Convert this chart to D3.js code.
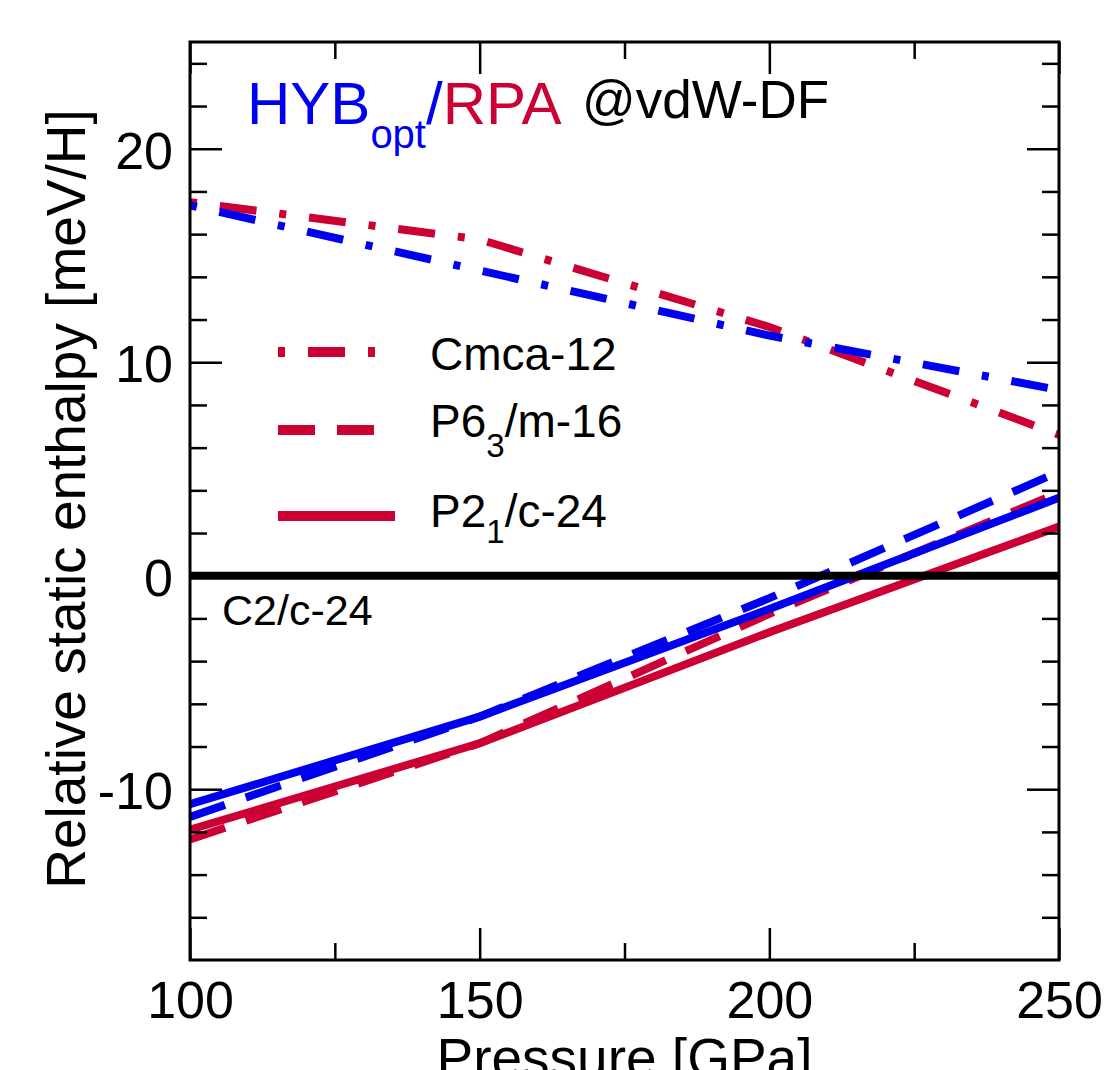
<!DOCTYPE html>
<html>
<head>
<meta charset="utf-8">
<script src="https://cdn.jsdelivr.net/npm/d3@7"></script>
<style>
  body { margin: 0; background: #fff; }
  svg text { font-family: "Liberation Sans", Arial, Helvetica, sans-serif; }
</style>
</head>
<body>
<svg id="chart" width="1115" height="1070"></svg>
<script>
// data (relative static enthalpy, meV/H, vs C2/c-24)
var pressures = [100, 150, 200, 250];
var hybCmca = [17.35, 14.3, 11.25, 8.7];
var rpaCmca = [17.5, 15.75, 11.65, 6.6];
var hybP63m = [-11.3, -6.6, -1.05, 4.87];
var rpaP63m = [-12.35, -7.85, -1.79, 3.9];
var hybP21c = [-10.7, -6.6, -1.56, 3.65];
var rpaP21c = [-11.9, -7.85, -2.65, 2.3];

var xMajor = [100, 150, 200, 250];
var xMinor = [125, 175, 225];
var yMajor = [-10, 0, 10, 20];
var yMinor = [-16, -14, -12, -8, -6, -4, -2, 2, 4, 6, 8, 12, 14, 16, 18, 22, 24];

var legendNames = ["Cmca-12", "P6_3/m-16", "P2_1/c-24"];

var red = "#cc0033", blue = "#0000f0";
var dashDot = "7,23,37,23", dashed = "37,22";

var marginLeft = 190, marginTop = 42, width = 869, height = 918;

var svg = d3.select("#chart");

var x = d3.scaleLinear().domain([100, 250]).range([0, width]);
var y = d3.scaleLinear().domain([-18, 25]).range([height, 0]);

var g = svg.append("g").attr("transform", "translate(" + marginLeft + "," + marginTop + ")");

g.append("clipPath").attr("id", "clip")
  .append("rect").attr("width", width).attr("height", height);

var series = [
  {vals: rpaCmca, color: red, dash: dashDot},
  {vals: rpaP63m, color: red, dash: dashed},
  {vals: rpaP21c, color: red, dash: null},
  {vals: hybCmca, color: blue, dash: dashDot},
  {vals: hybP63m, color: blue, dash: dashed},
  {vals: hybP21c, color: blue, dash: null}
];

var line = d3.line()
  .x(function(d, i) { return x(pressures[i]); })
  .y(function(d) { return y(d); });

g.append("g").attr("clip-path", "url(#clip)")
  .selectAll("path")
  .data(series)
  .enter()
  .append("path")
  .attr("d", function(d) { return line(d.vals); })
  .attr("fill", "none")
  .attr("stroke", function(d) { return d.color; })
  .attr("stroke-width", 8)
  .attr("stroke-dasharray", function(d) { return d.dash; });

// reference structure C2/c-24
g.append("line")
  .attr("x1", 0).attr("x2", width)
  .attr("y1", y(0)).attr("y2", y(0))
  .attr("stroke", "#000").attr("stroke-width", 8);

g.append("text")
  .attr("x", 32).attr("y", y(0) + 49)
  .attr("font-size", 43)
  .text("C2/c-24");

// axes, ticks pointing inward on all four sides
function styleAxis(sel) {
  sel.select(".domain").remove();
  sel.selectAll("line").attr("stroke", "#000").attr("stroke-width", 2.5);
  sel.selectAll("text").attr("font-size", 52).attr("fill", "#000")
    .style("font-family", "'Liberation Sans', Arial, Helvetica, sans-serif");
}

g.append("g").attr("transform", "translate(0," + height + ")")
  .call(d3.axisBottom(x).tickValues(xMajor).tickSize(-32).tickPadding(21).tickFormat(d3.format("d")))
  .call(styleAxis);
g.append("g").attr("transform", "translate(0," + height + ")")
  .call(d3.axisBottom(x).tickValues(xMinor).tickSize(-17).tickFormat(""))
  .call(styleAxis);
g.append("g")
  .call(d3.axisTop(x).tickValues(xMajor).tickSize(-32).tickFormat(""))
  .call(styleAxis);
g.append("g")
  .call(d3.axisTop(x).tickValues(xMinor).tickSize(-17).tickFormat(""))
  .call(styleAxis);

g.append("g")
  .call(d3.axisLeft(y).tickValues(yMajor).tickSize(-32).tickPadding(17).tickFormat(d3.format("d")))
  .call(styleAxis)
  .selectAll("text").attr("dy", "0.38em");
g.append("g")
  .call(d3.axisLeft(y).tickValues(yMinor).tickSize(-17).tickFormat(""))
  .call(styleAxis);
g.append("g").attr("transform", "translate(" + width + ",0)")
  .call(d3.axisRight(y).tickValues(yMajor).tickSize(-32).tickFormat(""))
  .call(styleAxis);
g.append("g").attr("transform", "translate(" + width + ",0)")
  .call(d3.axisRight(y).tickValues(yMinor).tickSize(-17).tickFormat(""))
  .call(styleAxis);

// tick labels use a hyphen-minus like the figure
g.selectAll("text").each(function() {
  var t = d3.select(this);
  t.text(t.text().replace("\u2212", "-"));
});

g.append("rect")
  .attr("width", width).attr("height", height)
  .attr("fill", "none").attr("stroke", "#000").attr("stroke-width", 3);

// axis titles
svg.append("text")
  .attr("transform", "translate(85,499) rotate(-90)")
  .attr("text-anchor", "middle")
  .attr("font-size", 55)
  .text("Relative static enthalpy [meV/H]");

svg.append("text")
  .attr("x", marginLeft + width / 2).attr("y", 1077)
  .attr("text-anchor", "middle")
  .attr("font-size", 55)
  .text("Pressure [GPa]");

// method label
var title = svg.append("text").attr("x", 247).attr("y", 124).attr("font-size", 60);
title.append("tspan").attr("fill", blue).text("HYB");
title.append("tspan").attr("fill", blue).attr("font-size", 40).attr("dy", 24).text("opt");
title.append("tspan").attr("fill", blue).attr("dy", -24).text("/");
title.append("tspan").attr("fill", red).text("RPA");

svg.append("text")
  .attr("x", 582).attr("y", 118)
  .attr("font-size", 53)
  .text("@vdW-DF");

// legend
var legY = [352, 430, 516];
var legTextY = [370, 437, 527];
var legDash = [dashDot, dashed, null];
var legEnd = [377, 375, 395];
var subDy = [0, 20, 16];

for (var i = 0; i < legendNames.length; i++) {
  svg.append("line")
    .attr("x1", 278).attr("x2", legEnd[i])
    .attr("y1", legY[i]).attr("y2", legY[i])
    .attr("stroke", red).attr("stroke-width", 10)
    .attr("stroke-dasharray", legDash[i]);

  var parts = legendNames[i].split("_");
  var t = svg.append("text")
    .attr("x", 430).attr("y", legTextY[i])
    .attr("font-size", 46);
  t.append("tspan").text(parts[0]);
  if (parts.length > 1) {
    t.append("tspan").attr("font-size", 33).attr("dy", subDy[i]).text(parts[1].charAt(0));
    t.append("tspan").attr("dy", -subDy[i]).text(parts[1].slice(1));
  }
}
</script>
</body>
</html>
